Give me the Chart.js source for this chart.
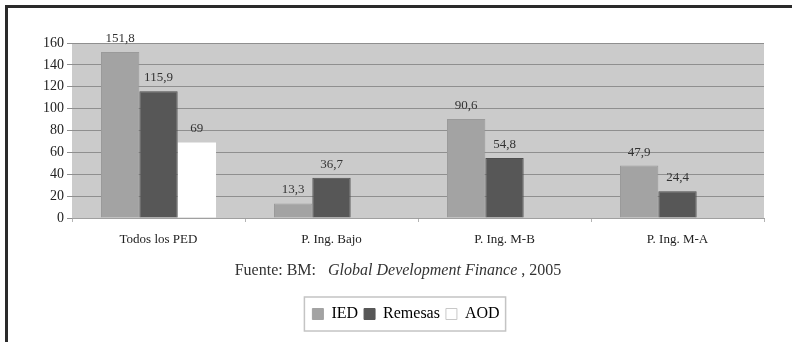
<!DOCTYPE html>
<html>
<head>
<meta charset="utf-8">
<script src="https://cdn.jsdelivr.net/npm/chart.js@4/dist/chart.umd.min.js"></script>
<style>
  html, body { margin: 0; padding: 0; background: #fff; }
  #wrap { position: relative; width: 792px; height: 342px; overflow: hidden; }
  #frame { position: absolute; left: 5px; top: 5px; width: 800px; height: 400px;
           border-top: 3px solid #2a2a2a; border-left: 3px solid #2a2a2a; box-sizing: border-box; }
  canvas { position: absolute; left: 0; top: 0; }
</style>
</head>
<body>
<div id="wrap">
  <div id="frame"></div>
  <canvas id="chart" width="792" height="342"></canvas>
</div>
<script>
const categories = ['Todos los PED', 'P. Ing. Bajo', 'P. Ing. M-B', 'P. Ing. M-A']
const ied = [151.8, 13.3, 90.6, 47.9]
const remesas = [115.9, 36.7, 54.8, 24.4]
const aod = [69, null, null, null]
const yTicks = [0, 20, 40, 60, 80, 100, 120, 140, 160]

const serif = '"Liberation Serif", "DejaVu Serif", serif'

// gris de fondo del área de trazado
const plotBg = {
  id: 'plotBg',
  beforeDraw(chart) {
    const { ctx, chartArea: a } = chart
    ctx.save()
    ctx.fillStyle = '#cbcbcb'
    ctx.fillRect(a.left, a.top, a.right - a.left, a.bottom - a.top)
    ctx.restore()
  }
}

// la leyenda va algo a la derecha del centro
const legendShift = {
  id: 'legendShift',
  afterUpdate(chart) {
    const lg = chart.legend
    if (!lg) return
    const dx = 24
    lg.left += dx
    lg.right += dx
    ;(lg.legendHitBoxes || []).forEach(h => { h.left += dx })
  }
}

// valores encima de cada barra, con coma decimal
const valueLabels = {
  id: 'valueLabels',
  afterDatasetsDraw(chart) {
    const ctx = chart.ctx
    ctx.save()
    ctx.font = '13px ' + serif
    ctx.fillStyle = '#333'
    ctx.textAlign = 'center'
    ctx.textBaseline = 'bottom'
    chart.data.datasets.forEach((ds, i) => {
      chart.getDatasetMeta(i).data.forEach((bar, j) => {
        const v = ds.data[j]
        if (v == null) return
        ctx.fillText(String(v).replace('.', ','), bar.x, bar.y - 7)
      })
    })
    ctx.restore()
  }
}

// fuente de los datos y recuadro de la leyenda
const footer = {
  id: 'footer',
  afterDraw(chart) {
    const ctx = chart.ctx
    ctx.save()
    const y = 271
    const parts = [
      ['Fuente: BM:   ', 'normal'],
      ['Global Development Finance', 'italic'],
      [' , 2005', 'normal']
    ]
    let total = 0
    parts.forEach(p => { ctx.font = p[1] + ' 16px ' + serif; total += ctx.measureText(p[0]).width })
    let x = 398 - total / 2
    ctx.fillStyle = '#333'
    ctx.textBaseline = 'middle'
    parts.forEach(p => {
      ctx.font = p[1] + ' 16px ' + serif
      ctx.fillText(p[0], x, y)
      x += ctx.measureText(p[0]).width
    })
    const lg = chart.legend
    if (lg && lg.legendHitBoxes && lg.legendHitBoxes.length) {
      const hb = lg.legendHitBoxes
      const l = hb[0].left - 8
      const r = hb[hb.length - 1].left + hb[hb.length - 1].width + 6
      const t = hb[0].top - 9
      const b = hb[0].top + hb[0].height + 9
      ctx.strokeStyle = '#c4c4c4'
      ctx.lineWidth = 1.5
      ctx.strokeRect(l, t, r - l, b - t)
    }
    ctx.restore()
  }
}

new Chart(document.getElementById('chart'), {
  type: 'bar',
  data: {
    labels: categories,
    datasets: [
      { label: 'IED', data: ied, backgroundColor: '#a3a3a3', borderColor: '#9a9a9a', borderWidth: 1 },
      { label: 'Remesas', data: remesas, backgroundColor: '#575757', borderColor: '#4e4e4e', borderWidth: 1 },
      { label: 'AOD', data: aod, backgroundColor: '#ffffff', borderWidth: 0 }
    ]
  },
  plugins: [plotBg, legendShift, valueLabels, footer],
  options: {
    responsive: false,
    animation: false,
    devicePixelRatio: 1,
    layout: { padding: { left: 0, right: 28, top: 43, bottom: 10 } },
    datasets: { bar: { categoryPercentage: 0.665, barPercentage: 1 } },
    scales: {
      x: {
        grid: { display: true, drawOnChartArea: false, offset: true, tickLength: 4, color: '#b4b4b4' },
        border: { color: '#a0a0a0' },
        ticks: { font: { family: serif, size: 13 }, color: '#222', padding: 10 },
        afterFit(s) { s.height = 82 }
      },
      y: {
        min: 0, max: 160,
        afterBuildTicks(s) { s.ticks = yTicks.map(v => ({ value: v })) },
        grid: { color: '#8f8f8f', lineWidth: 1, tickLength: 5, tickColor: '#8f8f8f' },
        border: { display: false },
        ticks: { font: { family: serif, size: 14 }, color: '#222', padding: 3 },
        afterFit(s) { s.width = 72 }
      }
    },
    plugins: {
      legend: {
        position: 'bottom',
        labels: {
          font: { family: serif, size: 16 },
          color: '#222',
          boxWidth: 11,
          boxHeight: 11,
          padding: 6,
          generateLabels(chart) {
            return chart.data.datasets.map((ds, i) => ({
              text: ds.label,
              fillStyle: ds.backgroundColor,
              strokeStyle: i === 2 ? '#c8c8c8' : ds.backgroundColor,
              lineWidth: 1,
              datasetIndex: i
            }))
          }
        }
      },
      tooltip: { enabled: false }
    }
  }
})
</script>
</body>
</html>
